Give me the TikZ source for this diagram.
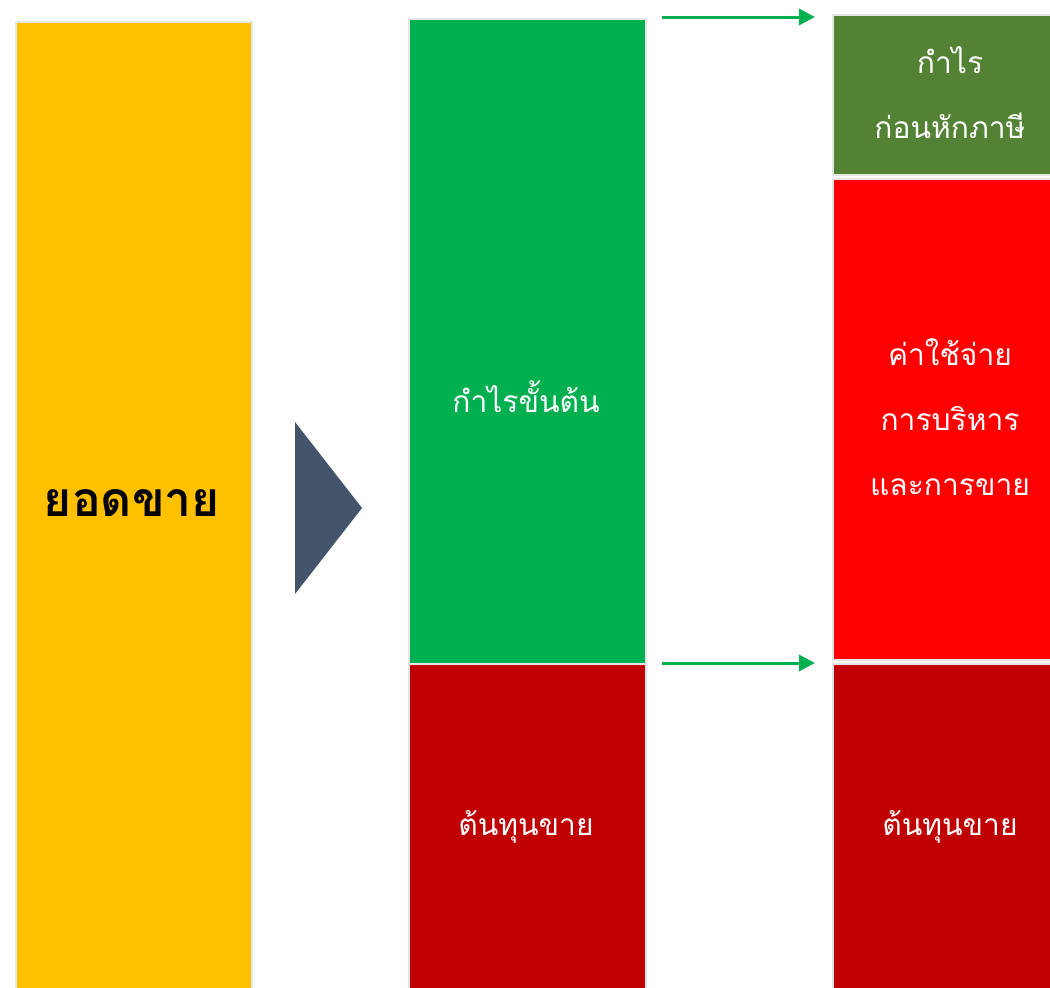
\documentclass[tikz,border=0pt]{standalone}
\usepackage{fontspec}
\newfontfamily\thaifont[Script=Thai]{Loma}
\usetikzlibrary{arrows.meta}
\definecolor{cyellow}{HTML}{FFC000}
\definecolor{cgreen}{HTML}{00B050}
\definecolor{cdred}{HTML}{C00000}
\definecolor{cred}{HTML}{FF0000}
\definecolor{colive}{HTML}{548235}
\definecolor{cslate}{HTML}{44546A}
\definecolor{cedge}{HTML}{E6E6E6}
\tikzset{
  blk/.style={rectangle, draw=cedge, line width=2pt, anchor=north west, inner sep=0pt},
  lbl/.style={text=white, font=\thaifont\fontsize{30}{65}\selectfont, align=center},
  conn/.style={draw=cgreen, line width=3pt, -{Triangle[length=16pt,width=16pt]}}
}
\begin{document}
\begin{tikzpicture}[x=1pt,y=-1pt]
\useasboundingbox (0,0) rectangle (1050,988);
\clip (0,0) rectangle (1050,988);
\node[blk, fill=cyellow, minimum width=236pt, minimum height=990pt] (sales) at (15,21) {};
\node[blk, fill=cgreen, minimum width=237pt, minimum height=645pt] (gp) at (408,18) {};
\node[blk, fill=cdred, minimum width=237pt, minimum height=340pt] (cogs) at (408,663) {};
\node[blk, fill=colive, minimum width=230pt, minimum height=160pt] (pbt) at (832,14) {};
\node[blk, fill=cred, minimum width=230pt, minimum height=481pt] (sga) at (832,178) {};
\node[blk, fill=cdred, minimum width=230pt, minimum height=340pt] (cogs2) at (832,663) {};
\fill[cslate] (295,422) -- (362,508) -- (295,594) -- cycle;
\node[font=\thaifont\fontsize{48}{50}\selectfont\bfseries, text=black] (tsales) at (132,503) {ยอดขาย};
\node[lbl] (tgp) at (526,397) {กำไรขั้นต้น};
\node[lbl] (tcogs) at (526,827) {ต้นทุนขาย};
\node[lbl] (tcogs2) at (950,827) {ต้นทุนขาย};
\node[lbl] (tpbt) at (950,93) {กำไร\\ก่อนหักภาษี};
\node[lbl] (tsga) at (950,417) {ค่าใช้จ่าย\\การบริหาร\\และการขาย};
\coordinate (a1s) at (662,17);
\coordinate (a1e) at (815,17);
\coordinate (a2s) at (662,663);
\coordinate (a2e) at (815,663);
\draw[conn] (a1s) -- (a1e);
\draw[conn] (a2s) -- (a2e);
\end{tikzpicture}
\end{document}
